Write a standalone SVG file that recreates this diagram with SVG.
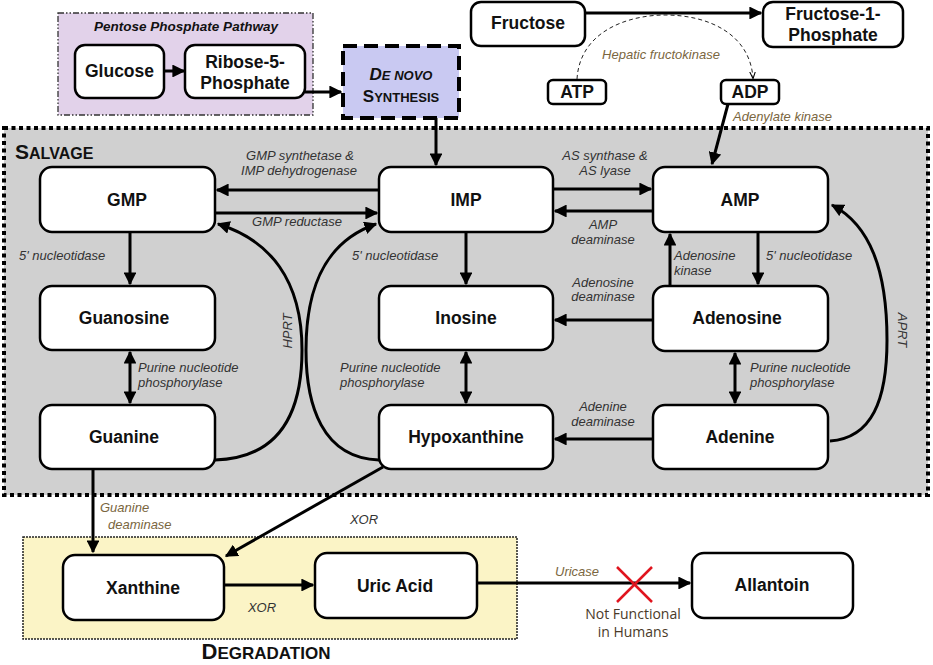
<svg xmlns="http://www.w3.org/2000/svg" width="933" height="665" viewBox="0 0 933 665">
<defs>
<style>
.node{fill:#fff;stroke:#000;stroke-width:2.5}
.nt{font-family:"Liberation Sans",Arial,sans-serif;font-weight:bold;font-size:17.5px;fill:#111;text-anchor:middle}
.lb{font-family:"Liberation Sans",Arial,sans-serif;font-style:italic;font-size:13px;fill:#333}
.br{fill:#7a6640}
.c{text-anchor:middle}
.ln{fill:none;stroke:#000;stroke-width:3}
.sc{font-family:"Liberation Sans",Arial,sans-serif;font-weight:bold;fill:#111}
</style>
<marker id="ah" viewBox="0 0 10 10" refX="9" refY="5" markerWidth="4.3" markerHeight="4.3" orient="auto-start-reverse" markerUnits="strokeWidth">
<path d="M0,0 L10,5 L0,10 z" fill="#000"/>
</marker>
<marker id="ahs" viewBox="0 0 10 10" refX="9" refY="5" markerWidth="7" markerHeight="7" orient="auto" markerUnits="strokeWidth">
<path d="M0,1 L10,5 L0,9" fill="none" stroke="#000" stroke-width="1.5"/>
</marker>
</defs>
<rect width="933" height="665" fill="#fff"/>

<!-- regions -->
<g id="ppp">
<rect x="58" y="13" width="255" height="102" fill="#e2d2ea" stroke="#333" stroke-width="1.3" stroke-dasharray="6 2 1.5 2 1.5 2"/>
<text x="186" y="31" class="sc" font-size="13.5" font-style="italic" text-anchor="middle">Pentose Phosphate Pathway</text>
</g>
<g id="salvage">
<rect x="4" y="128" width="924" height="367" fill="#d0d0d0" stroke="#000" stroke-width="4" stroke-dasharray="4 3.5"/>
<text x="15" y="159" class="sc" font-size="21">S<tspan font-size="16">ALVAGE</tspan></text>
</g>
<g id="degradation">
<rect x="23" y="537" width="494" height="102" fill="#fbf4c6" stroke="#222" stroke-width="1.5" stroke-dasharray="2 1"/>
<text x="266" y="659" class="sc" font-size="22" text-anchor="middle">D<tspan font-size="17">EGRADATION</tspan></text>
</g>

<!-- nodes -->
<g id="glucose"><rect class="node" x="75" y="45" width="89" height="53" rx="10"/><text class="nt" x="119.5" y="77">Glucose</text></g>
<g id="ribose"><rect class="node" x="185" y="45" width="120" height="53" rx="10"/><text class="nt" x="245" y="68">Ribose-5-</text><text class="nt" x="245" y="89">Phosphate</text></g>
<g id="denovo"><rect x="343" y="46" width="116" height="72" fill="#c9c9f2" stroke="#000" stroke-width="4" stroke-dasharray="14 7"/>
<text x="401" y="80" class="sc" font-style="italic" font-size="17" text-anchor="middle">D<tspan font-size="13">E NOVO</tspan></text>
<text x="401" y="102" class="sc" font-size="17" text-anchor="middle">S<tspan font-size="13">YNTHESIS</tspan></text></g>
<g id="fructose"><rect class="node" x="471" y="2" width="114" height="44" rx="10"/><text class="nt" x="528" y="29">Fructose</text></g>
<g id="f1p"><rect class="node" x="763" y="2" width="140" height="45" rx="10"/><text class="nt" x="833" y="20">Fructose-1-</text><text class="nt" x="833" y="41">Phosphate</text></g>
<g id="atp"><rect class="node" x="548" y="80" width="58" height="24" rx="5"/><text class="nt" x="577" y="98">ATP</text></g>
<g id="adp"><rect class="node" x="721" y="80" width="58" height="24" rx="5"/><text class="nt" x="750" y="98">ADP</text></g>

<g id="gmp"><rect class="node" x="40" y="167" width="175" height="65" rx="12"/><text class="nt" x="127" y="206">GMP</text></g>
<g id="imp"><rect class="node" x="379" y="167" width="174" height="65" rx="12"/><text class="nt" x="466" y="206">IMP</text></g>
<g id="amp"><rect class="node" x="653" y="167" width="175" height="65" rx="12"/><text class="nt" x="740" y="206">AMP</text></g>
<g id="guanosine"><rect class="node" x="40" y="286" width="175" height="64" rx="12"/><text class="nt" x="124" y="324">Guanosine</text></g>
<g id="inosine"><rect class="node" x="379" y="286" width="174" height="64" rx="12"/><text class="nt" x="466" y="324">Inosine</text></g>
<g id="adenosine"><rect class="node" x="653" y="286" width="175" height="65" rx="12"/><text class="nt" x="737" y="324">Adenosine</text></g>
<g id="guanine"><rect class="node" x="40" y="405" width="175" height="64" rx="12"/><text class="nt" x="124" y="443">Guanine</text></g>
<g id="hypoxanthine"><rect class="node" x="379" y="405" width="174" height="64" rx="12"/><text class="nt" x="466" y="443">Hypoxanthine</text></g>
<g id="adenine"><rect class="node" x="653" y="405" width="175" height="64" rx="12"/><text class="nt" x="740" y="443">Adenine</text></g>

<g id="xanthine"><rect class="node" x="63" y="555" width="161" height="65" rx="12"/><text class="nt" x="143" y="594">Xanthine</text></g>
<g id="uricacid"><rect class="node" x="315" y="553" width="162" height="65" rx="12"/><text class="nt" x="395" y="592">Uric Acid</text></g>
<g id="allantoin"><rect class="node" x="692" y="553" width="161" height="65" rx="12"/><text class="nt" x="772" y="591">Allantoin</text></g>

<!-- connectors -->
<g id="connectors">
<line class="ln" x1="164" y1="71" x2="184" y2="71" marker-end="url(#ah)"/>
<polyline class="ln" points="305,92 341,92" marker-end="url(#ah)"/>
<line class="ln" x1="585" y1="13" x2="761" y2="13" marker-end="url(#ah)"/>
<path d="M577,79 C580,30 630,15 665,15 C710,15 750,35 753,78" fill="none" stroke="#222" stroke-width="1" stroke-dasharray="4 3" marker-end="url(#ahs)"/>
<line class="ln" x1="728" y1="104" x2="712" y2="164" marker-end="url(#ah)"/>
<line class="ln" x1="436" y1="118" x2="436" y2="165" marker-end="url(#ah)"/>

<line class="ln" x1="379" y1="190" x2="217" y2="190" marker-end="url(#ah)"/>
<line class="ln" x1="215" y1="213" x2="377" y2="213" marker-end="url(#ah)"/>
<line class="ln" x1="553" y1="189" x2="651" y2="189" marker-end="url(#ah)"/>
<line class="ln" x1="653" y1="211" x2="555" y2="211" marker-end="url(#ah)"/>

<line class="ln" x1="130" y1="232" x2="130" y2="284" marker-end="url(#ah)"/>
<line class="ln" x1="466" y1="232" x2="466" y2="284" marker-end="url(#ah)"/>
<line class="ln" x1="758" y1="232" x2="758" y2="284" marker-end="url(#ah)"/>
<line class="ln" x1="670" y1="286" x2="670" y2="234" marker-end="url(#ah)"/>

<line class="ln" x1="653" y1="320" x2="555" y2="320" marker-end="url(#ah)"/>
<line class="ln" x1="653" y1="439" x2="555" y2="439" marker-end="url(#ah)"/>

<line class="ln" x1="130" y1="352" x2="130" y2="403" marker-start="url(#ah)" marker-end="url(#ah)"/>
<line class="ln" x1="466" y1="352" x2="466" y2="403" marker-start="url(#ah)" marker-end="url(#ah)"/>
<line class="ln" x1="735" y1="353" x2="735" y2="403" marker-start="url(#ah)" marker-end="url(#ah)"/>

<path class="ln" d="M215,460 C285,458 302,405 302,350 C302,280 270,240 218,224" marker-end="url(#ah)"/>
<path class="ln" d="M379,460 C322,458 306,405 306,350 C306,280 330,240 376,224" marker-end="url(#ah)"/>
<path class="ln" d="M830,441 C872,438 887,400 887,340 C887,270 870,225 832,205" marker-end="url(#ah)"/>

<line class="ln" x1="93" y1="469" x2="93" y2="552" marker-end="url(#ah)"/>
<line class="ln" x1="383" y1="467" x2="226" y2="556" marker-end="url(#ah)"/>
<line class="ln" x1="224" y1="585" x2="313" y2="585" marker-end="url(#ah)"/>
<line class="ln" x1="477" y1="583" x2="690" y2="583" marker-end="url(#ah)"/>
</g>

<!-- labels -->
<g id="labels">
<text class="lb br c" x="661" y="59">Hepatic fructokinase</text>
<text class="lb br" x="733" y="121">Adenylate kinase</text>
<text class="lb c" x="300" y="160">GMP synthetase &amp;</text>
<text class="lb c" x="299" y="175">IMP dehydrogenase</text>
<text class="lb c" x="297" y="226">GMP reductase</text>
<text class="lb c" x="605" y="160">AS synthase &amp;</text>
<text class="lb c" x="605" y="175">AS lyase</text>
<text class="lb c" x="603" y="229">AMP</text>
<text class="lb c" x="603" y="244">deaminase</text>
<text class="lb" x="19" y="260">5' nucleotidase</text>
<text class="lb" x="352" y="260">5' nucleotidase</text>
<text class="lb" x="766" y="260">5' nucleotidase</text>
<text class="lb" x="674" y="260">Adenosine</text>
<text class="lb" x="674" y="275">kinase</text>
<text class="lb c" x="603" y="287">Adenosine</text>
<text class="lb c" x="603" y="301">deaminase</text>
<text class="lb c" x="603" y="411">Adenine</text>
<text class="lb c" x="603" y="426">deaminase</text>
<text class="lb" x="138" y="372">Purine nucleotide</text>
<text class="lb" x="138" y="387">phosphorylase</text>
<text class="lb" x="340" y="372">Purine nucleotide</text>
<text class="lb" x="340" y="387">phosphorylase</text>
<text class="lb" x="750" y="372">Purine nucleotide</text>
<text class="lb" x="750" y="387">phosphorylase</text>
<text class="lb c" transform="translate(292,331) rotate(-90)">HPRT</text>
<text class="lb c" transform="translate(898,330) rotate(90)">APRT</text>
<text class="lb br" x="100" y="512">Guanine</text>
<text class="lb br" x="108" y="529">deaminase</text>
<text class="lb c" x="364" y="524">XOR</text>
<text class="lb c" x="262" y="612">XOR</text>
<text class="lb br" x="555" y="576">Uricase</text>
<g id="cross" stroke="#e0141e" stroke-width="2.5"><line x1="617" y1="567" x2="652" y2="602"/><line x1="652" y1="567" x2="617" y2="602"/></g>
<text x="633" y="619" font-family="'Open Sans','Noto Sans',sans-serif" font-size="14" fill="#4a3a28" text-anchor="middle">Not Functional</text>
<text x="633" y="637" font-family="'Open Sans','Noto Sans',sans-serif" font-size="14" fill="#4a3a28" text-anchor="middle">in Humans</text>
</g>
</svg>
